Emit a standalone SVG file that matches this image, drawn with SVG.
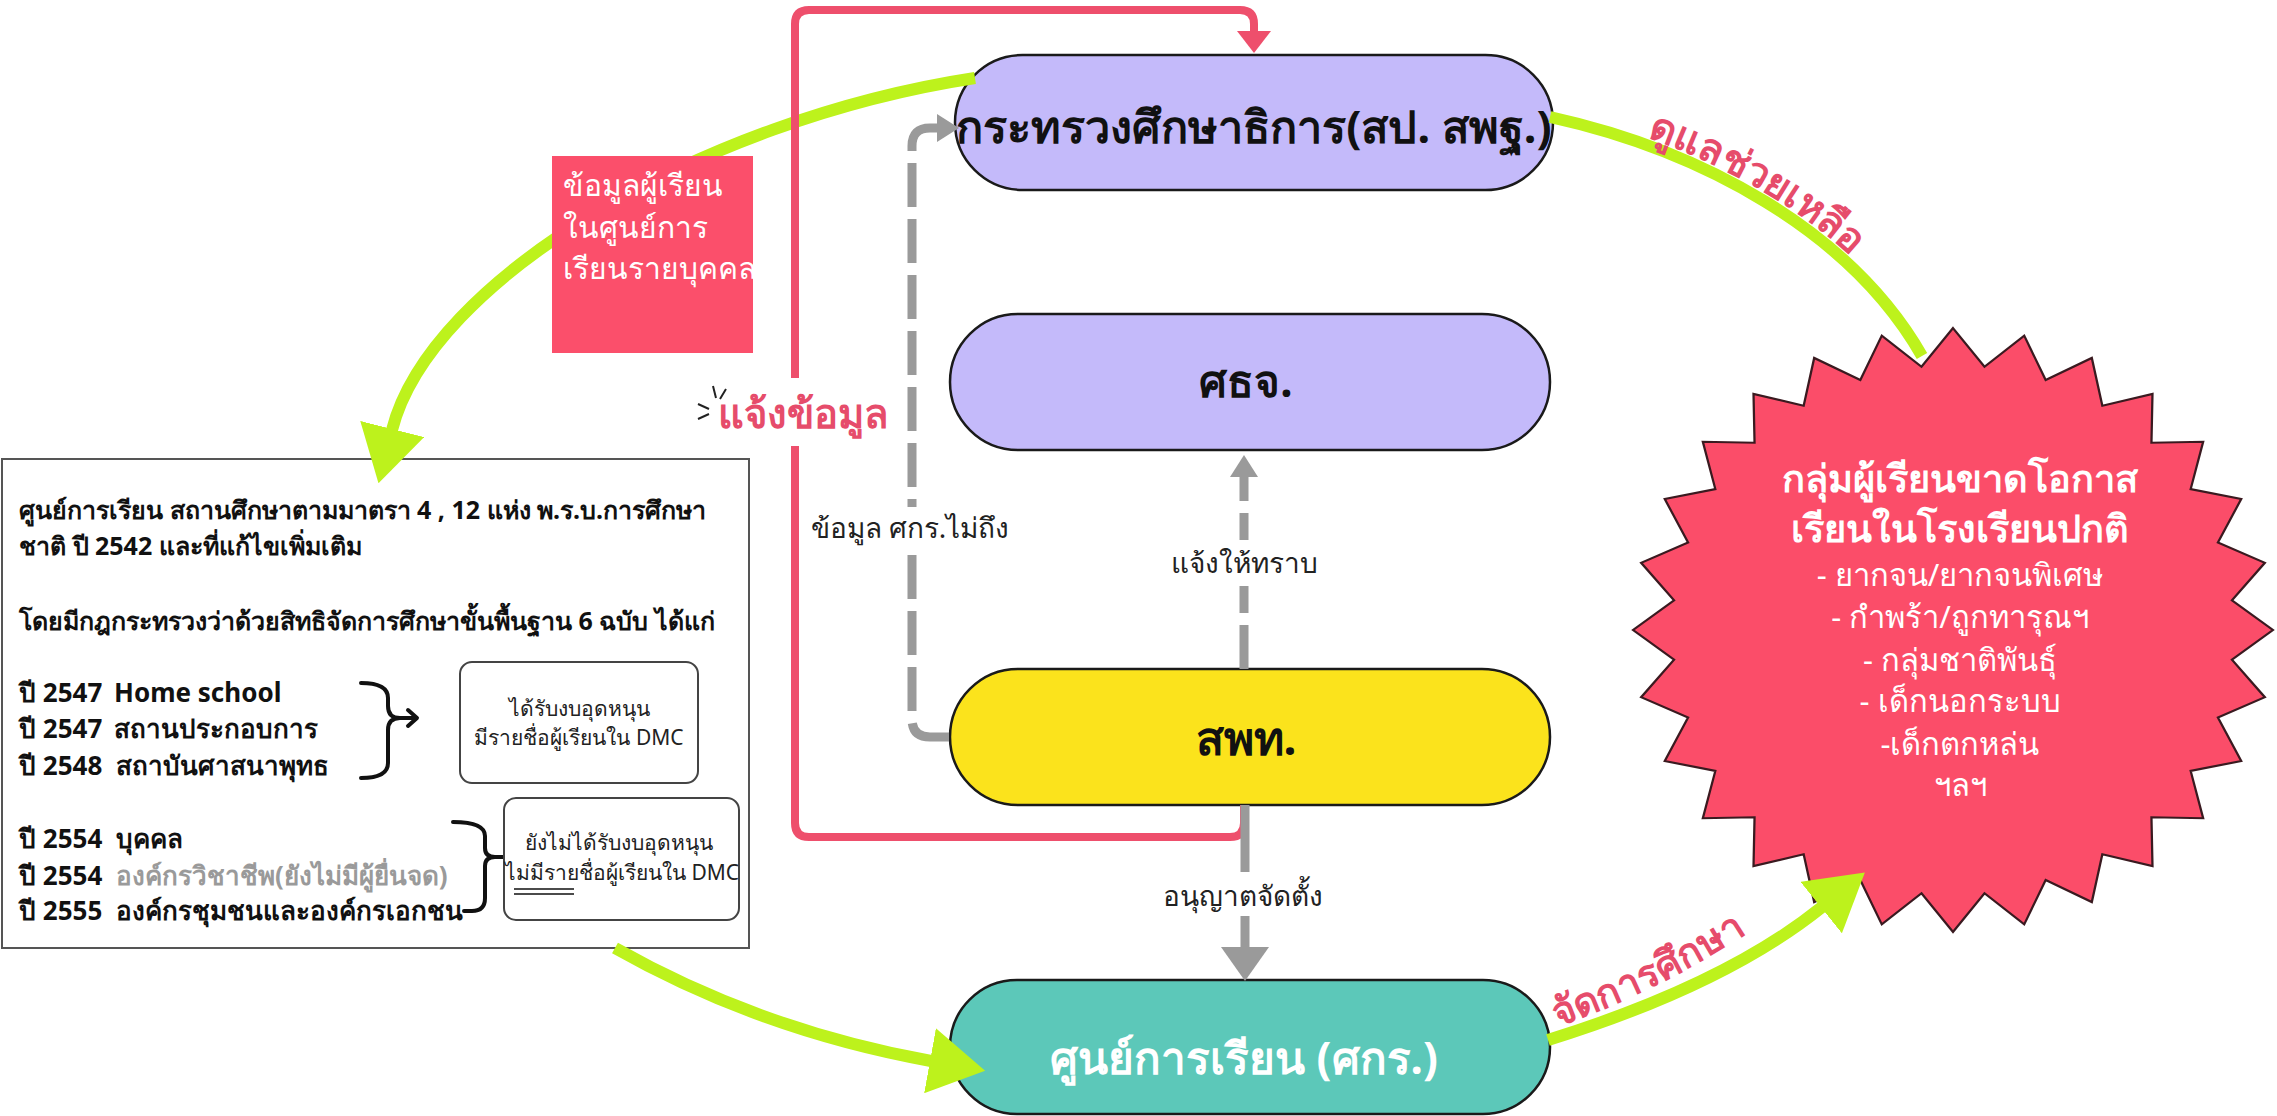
<svg xmlns="http://www.w3.org/2000/svg" width="2277" height="1116" viewBox="0 0 2277 1116">
<defs>
<style>
text{font-family:"Noto Sans","DejaVu Sans",sans-serif;}
.pill{stroke:#1a1a1a;stroke-width:2.5;}
.nt{font-weight:bold;text-anchor:middle;fill:#111;}
.green{fill:none;stroke:#bdf21c;stroke-width:12;}
.gray{fill:none;stroke:#9a9a9a;stroke-width:9;}
.dash{stroke-dasharray:44 12;}
.red{fill:none;stroke:#ee4f6c;stroke-width:8;}
.lbl{font-size:28px;fill:#222;text-anchor:middle;}
.bx{font-size:25px;font-weight:bold;fill:#111;}
.it{font-size:26px;font-weight:bold;fill:#111;}
.sm{font-size:21px;fill:#222;text-anchor:middle;}
.brace{fill:none;stroke:#111;stroke-width:4;stroke-linecap:round;stroke-linejoin:round;}
.arcl{font-weight:bold;fill:#e64c6b;}
.wt{fill:#fff;text-anchor:middle;}
</style>
<marker id="ga" markerUnits="userSpaceOnUse" viewBox="0 0 56 66" refX="1" refY="33" markerWidth="56" markerHeight="66" orient="auto"><path d="M0 0 L56 33 L0 66 Z" fill="#bdf21c"/></marker>
<marker id="gr" markerUnits="userSpaceOnUse" viewBox="0 0 22 28" refX="1" refY="14" markerWidth="22" markerHeight="28" orient="auto"><path d="M0 0 L22 14 L0 28 Z" fill="#9a9a9a"/></marker>
<marker id="grb" markerUnits="userSpaceOnUse" viewBox="0 0 34 48" refX="1" refY="24" markerWidth="34" markerHeight="48" orient="auto"><path d="M0 0 L34 24 L0 48 Z" fill="#9a9a9a"/></marker>
<marker id="rd" markerUnits="userSpaceOnUse" viewBox="0 0 22 34" refX="1" refY="17" markerWidth="22" markerHeight="34" orient="auto"><path d="M0 0 L22 17 L0 34 Z" fill="#ee4f6c"/></marker>
</defs>
<rect width="2277" height="1116" fill="#fff"/>

<g id="nodes">
<g id="legal-box">
<rect x="2" y="459" width="747" height="489" fill="#fff" stroke="#555" stroke-width="2"/>
<text class="bx" x="19" y="519">ศูนย์การเรียน สถานศึกษาตามมาตรา 4 , 12 แห่ง พ.ร.บ.การศึกษา</text>
<text class="bx" x="19" y="555">ชาติ ปี 2542 และที่แก้ไขเพิ่มเติม</text>
<text class="bx" x="19" y="630">โดยมีกฎกระทรวงว่าด้วยสิทธิจัดการศึกษาขั้นพื้นฐาน 6 ฉบับ  ได้แก่</text>
<text class="it" y="702"><tspan x="19">ปี 2547</tspan><tspan x="114">Home school</tspan></text>
<text class="it" y="738"><tspan x="19">ปี 2547</tspan><tspan x="114">สถานประกอบการ</tspan></text>
<text class="it" y="775"><tspan x="19">ปี 2548</tspan><tspan x="116">สถาบันศาสนาพุทธ</tspan></text>
<text class="it" y="848"><tspan x="19">ปี 2554</tspan><tspan x="116">บุคคล</tspan></text>
<text class="it" y="885"><tspan x="19">ปี 2554</tspan><tspan x="116" fill="#9a9a9a">องค์กรวิชาชีพ(ยังไม่มีผู้ยื่นจด)</tspan></text>
<text class="it" y="920"><tspan x="19">ปี 2555</tspan><tspan x="116">องค์กรชุมชนและองค์กรเอกชน</tspan></text>
<path class="brace" d="M361 683 Q388 683 388 698 L388 706 Q388 718 400 718 Q388 718 388 730 L388 763 Q388 778 361 778"/>
<path class="brace" d="M400 718 L416 718 M408 710 L417 718 L408 726"/>
<path class="brace" d="M453 822 Q485 822 485 836 L485 848 Q485 857 495 857 Q485 857 485 866 L485 898 Q485 911 472 911 L464 911"/>
<path class="brace" d="M495 857 L515 857 M507 849 L516 857 L507 865"/>
<rect x="460" y="662" width="238" height="121" rx="12" fill="#fff" stroke="#444" stroke-width="2"/>
<text class="sm" x="579" y="716">ได้รับงบอุดหนุน</text>
<text class="sm" x="579" y="745">มีรายชื่อผู้เรียนใน DMC</text>
<rect x="504" y="798" width="235" height="122" rx="12" fill="#fff" stroke="#444" stroke-width="2"/>
<text class="sm" x="619" y="850">ยังไม่ได้รับงบอุดหนุน</text>
<text class="sm" x="622" y="880">ไม่มีรายชื่อผู้เรียนใน DMC</text>
<path d="M514 889 L574 889 M514 894 L574 894" stroke="#111" stroke-width="1.6"/>
</g>
<g id="moe">
<rect class="pill" x="955" y="55" width="598" height="135" rx="67.5" fill="#c4bafa"/>
<text class="nt" x="1254" y="143" font-size="45">กระทรวงศึกษาธิการ(สป. สพฐ.)</text>
</g>
<g id="sorjor">
<rect class="pill" x="950" y="314" width="600" height="136" rx="68" fill="#c4bafa"/>
<text class="nt" x="1246" y="397" font-size="44">ศธจ.</text>
</g>
<g id="sorportor">
<rect class="pill" x="950" y="669" width="600" height="136" rx="68" fill="#fbe31c"/>
<text class="nt" x="1246" y="755" font-size="46">สพท.</text>
</g>
<g id="learning-center">
<rect class="pill" x="950" y="980" width="600" height="134" rx="67" fill="#5cc8b9"/>
<text class="nt wt" x="1244" y="1074" font-size="44">ศูนย์การเรียน (ศกร.)</text>
</g>
<g id="target-group">
<polygon transform="translate(1953,630) scale(1.032,0.974) translate(-1953,-630)" fill="#fb4d69" stroke="#3a1a20" stroke-width="2.2" points="1953,320 1983.5,359.7 2022,327.8 2042.8,373.3 2087.5,350.7 2097.7,399.7 2146.3,387.6 2145.3,437.7 2195.4,436.7 2183.3,485.3 2232.3,495.5 2209.7,540.2 2255.2,561 2223.3,599.5 2263,630 2223.3,660.5 2255.2,699 2209.7,719.8 2232.3,764.5 2183.3,774.7 2195.4,823.3 2145.3,822.3 2146.3,872.4 2097.7,860.3 2087.5,909.3 2042.8,886.7 2022,932.2 1983.5,900.3 1953,940 1922.5,900.3 1884,932.2 1863.2,886.7 1818.5,909.3 1808.3,860.3 1759.7,872.4 1760.7,822.3 1710.6,823.3 1722.7,774.7 1673.7,764.5 1696.3,719.8 1650.8,699 1682.7,660.5 1643,630 1682.7,599.5 1650.8,561 1696.3,540.2 1673.7,495.5 1722.7,485.3 1710.6,436.7 1760.7,437.7 1759.7,387.6 1808.3,399.7 1818.5,350.7 1863.2,373.3 1884,327.8 1922.5,359.7"/>
<text class="wt" x="1960" y="492" font-size="38" font-weight="bold">กลุ่มผู้เรียนขาดโอกาส</text>
<text class="wt" x="1960" y="542" font-size="38" font-weight="bold">เรียนในโรงเรียนปกติ</text>
<text class="wt" x="1960" y="586" font-size="31">- ยากจน/ยากจนพิเศษ</text>
<text class="wt" x="1960" y="628" font-size="31">- กำพร้า/ถูกทารุณฯ</text>
<text class="wt" x="1960" y="671" font-size="31">- กลุ่มชาติพันธุ์</text>
<text class="wt" x="1960" y="712" font-size="31">- เด็กนอกระบบ</text>
<text class="wt" x="1960" y="755" font-size="31">-เด็กตกหล่น</text>
<text class="wt" x="1960" y="796" font-size="31">ฯลฯ</text>
</g>
</g>

<g id="connectors">
<path id="arcA" class="green" d="M975 78 C700 120 430 280 392 430" marker-end="url(#ga)"/>
<path id="arcB" class="green" d="M1550 117 C1700 150 1850 230 1922 356"/>
<path id="arcC" class="green" d="M615 948 Q760 1030 931 1061" marker-end="url(#ga)"/>
<path id="arcD" class="green" d="M1548 1040 Q1725 985 1822 907" marker-end="url(#ga)"/>
<path class="red" d="M1244 805 L1244 823 Q1244 837 1230 837 L809 837 Q795 837 795 823 L795 24 Q795 10 809 10 L1240 10 Q1254 10 1254 24 L1254 32" marker-end="url(#rd)"/>
<path class="gray dash" d="M949 737 L930 737 Q912 737 912 719 L912 146 Q912 128 930 128 L938 128" marker-end="url(#gr)"/>
<path class="gray dash" d="M1244 669 L1244 476" marker-end="url(#gr)"/>
<path class="gray" d="M1245 805 L1245 948" marker-end="url(#grb)"/>
</g>

<g id="labels">
<g id="student-data">
<rect x="552" y="156" width="201" height="197" fill="#fb4f6b"/>
<text x="563" y="196" font-size="30" fill="#fff">ข้อมูลผู้เรียน</text>
<text x="563" y="238" font-size="30" fill="#fff">ในศูนย์การ</text>
<text x="563" y="279" font-size="30" fill="#fff">เรียนรายบุคคล</text>
</g>
<rect x="692" y="378" width="190" height="68" fill="#fff"/>
<path d="M713 386 L716 398 M726 389 L720 399 M698 404 L709 409 M698 419 L709 414" stroke="#222" stroke-width="2" fill="none"/>
<text x="718" y="428" font-size="40" font-weight="bold" fill="#e64c6b">แจ้งข้อมูล</text>
<rect x="805" y="507" width="212" height="48" fill="#fff"/>
<text class="lbl" x="910" y="538">ข้อมูล ศกร.ไม่ถึง</text>
<rect x="1168" y="540" width="152" height="46" fill="#fff"/>
<text class="lbl" x="1244" y="573">แจ้งให้ทราบ</text>
<rect x="1153" y="872" width="182" height="44" fill="#fff"/>
<text class="lbl" x="1243" y="906">อนุญาตจัดตั้ง</text>
<path id="arcBt" d="M1553 110 C1703 143 1855 223 1928 351" fill="none"/>
<text class="arcl" font-size="40"><textPath href="#arcBt" startOffset="98">ดูแลช่วยเหลือ</textPath></text>
<path id="arcDt" d="M1550 1030 Q1700 976 1806 890" fill="none"/>
<text class="arcl" font-size="39"><textPath href="#arcDt" startOffset="8">จัดการศึกษา</textPath></text>
</g>
</svg>
